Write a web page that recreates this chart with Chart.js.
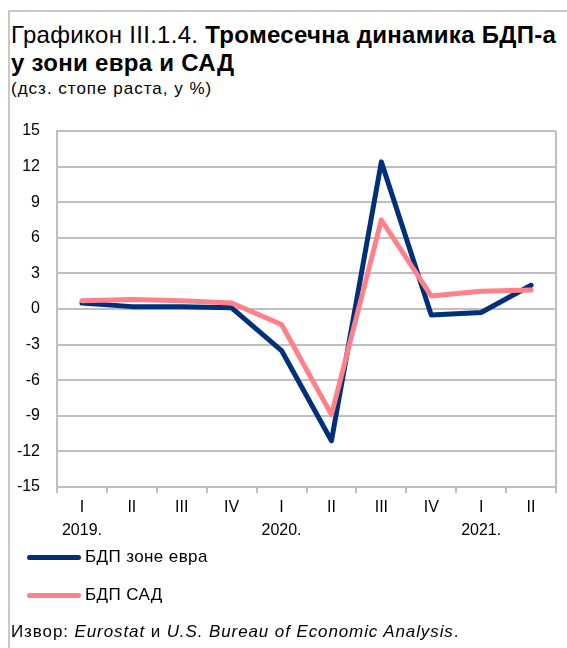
<!DOCTYPE html>
<html>
<head>
<meta charset="utf-8">
<script src="https://cdn.jsdelivr.net/npm/chart.js@4"></script>
<style>
  html, body { margin: 0; padding: 0; background: #fff; }
  body { width: 567px; height: 648px; position: relative; overflow: hidden;
         font-family: "Liberation Sans", Arial, sans-serif; color: #000; }
  #frame { position: absolute; left: 8px; top: 10px; right: 0; bottom: 0;
           border-top: 2px solid #c8c8c8; border-left: 2px solid #c8c8c8; }
  #title { position: absolute; left: 11px; top: 21px; font-size: 24px; line-height: 28px; letter-spacing: 0.3px; }
  #subtitle { position: absolute; left: 11px; top: 79px; font-size: 17px; letter-spacing: 1px; }
  #chartBox { position: absolute; left: 0; top: 0; width: 567px; height: 648px; }
  .legendRow { position: absolute; left: 27px; font-size: 17px; letter-spacing: 0.4px; display: flex; align-items: center; }
  .legendRow span.swatch { display: inline-block; width: 54px; height: 5px; border-radius: 3px; margin-right: 4px; }
  #source { position: absolute; left: 11px; top: 622px; font-size: 17px; letter-spacing: 0.9px; }
</style>
</head>
<body>
<div id="frame"></div>
<div id="title">Графикон III.1.4. <b>Тромесечна динамика БДП-а<br>у зони евра и САД</b></div>
<div id="subtitle">(дсз. стопе раста, у %)</div>
<div id="chartBox"><canvas id="gdpChart" width="567" height="648"></canvas></div>
<div id="legend"></div>
<div id="source">Извор: <i>Eurostat</i> и <i>U.S. Bureau of Economic Analysis</i>.</div>
<script>
const quarters = ['I', 'II', 'III', 'IV', 'I', 'II', 'III', 'IV', 'I', 'II'];
const years = ['2019.', '', '', '', '2020.', '', '', '', '2021.', ''];
const euroArea = [0.5, 0.2, 0.2, 0.1, -3.5, -11.1, 12.4, -0.5, -0.3, 2.0];
const usa = [0.7, 0.8, 0.7, 0.5, -1.3, -8.9, 7.5, 1.1, 1.5, 1.6];
const seriesNames = ['БДП зоне евра', 'БДП САД'];
const seriesColors = ['#00307a', '#ff8089'];
const yTicks = [-15, -12, -9, -6, -3, 0, 3, 6, 9, 12, 15];

const labels = quarters.map((q, i) => [q, years[i]]);

// right border of the plot area
const rightBorder = {
    id: 'rightBorder',
    afterDraw(chart) {
        const a = chart.chartArea, ctx = chart.ctx;
        ctx.save();
        ctx.strokeStyle = '#bfbfbf';
        ctx.lineWidth = 2;
        ctx.beginPath();
        ctx.moveTo(a.right, a.top);
        ctx.lineTo(a.right, a.bottom);
        ctx.stroke();
        ctx.restore();
    }
};

function lineSet(name, data, color, order) {
    return {
        label: name,
        data: data,
        borderColor: color,
        backgroundColor: color,
        borderWidth: 5,
        pointRadius: 0,
        tension: 0,
        borderCapStyle: 'round',
        borderJoinStyle: 'round',
        order: order
    };
}

new Chart(document.getElementById('gdpChart').getContext('2d'), {
    type: 'line',
    data: {
        labels: labels,
        datasets: [
            lineSet(seriesNames[0], euroArea, seriesColors[0], 2),
            lineSet(seriesNames[1], usa, seriesColors[1], 1)
        ]
    },
    options: {
        responsive: false,
        animation: false,
        events: [],
        layout: { padding: { left: 0, right: 11, top: 131, bottom: 101 } },
        plugins: { legend: { display: false }, tooltip: { enabled: false } },
        scales: {
            x: {
                offset: true,
                grid: { offset: true, drawOnChartArea: false, drawTicks: true, tickLength: 6,
                        color: '#bfbfbf', lineWidth: 2 },
                border: { color: '#bfbfbf', width: 2 },
                ticks: { color: '#000', padding: 3, maxRotation: 0, autoSkip: false,
                         font: { family: 'Liberation Sans', size: 16, lineHeight: 1.45 } },
                afterFit(scale) { scale.height = 60; }
            },
            y: {
                min: -15, max: 15,
                afterBuildTicks(scale) { scale.ticks = yTicks.map(v => ({ value: v })); },
                grid: { color: '#bfbfbf', lineWidth: 2, drawTicks: false },
                border: { color: '#bfbfbf', width: 2 },
                ticks: { color: '#000', padding: 17,
                         font: { family: 'Liberation Sans', size: 16 } },
                afterFit(scale) { scale.width = 57; }
            }
        }
    },
    plugins: [rightBorder]
});

// legend rows
const legend = document.getElementById('legend');
const legendTops = [547, 585];
seriesNames.forEach((name, i) => {
    const row = document.createElement('div');
    row.className = 'legendRow';
    row.style.top = legendTops[i] + 'px';
    const sw = document.createElement('span');
    sw.className = 'swatch';
    sw.style.background = seriesColors[i];
    row.appendChild(sw);
    row.appendChild(document.createTextNode(name));
    legend.appendChild(row);
});
</script>
</body>
</html>
